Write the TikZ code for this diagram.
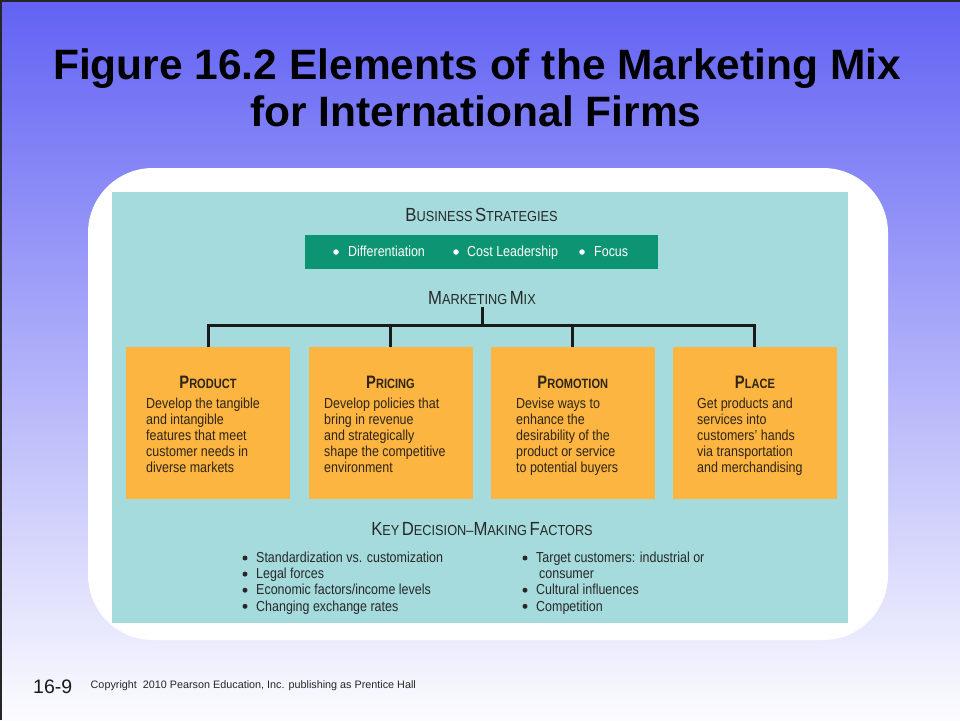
\documentclass[tikz,border=0pt]{standalone}
\usepackage{fontspec}
\setmainfont{Liberation Sans}
\newfontfamily\condf[FakeStretch=0.86]{Liberation Sans}
\newfontfamily\headf[FakeStretch=0.88]{Liberation Sans}
\newfontfamily\condbf[FakeStretch=0.82]{Liberation Sans}
\definecolor{bgtop}{RGB}{98,98,244}
\definecolor{bgmid}{RGB}{185,185,252}
\definecolor{bgbot}{RGB}{252,252,255}
\definecolor{tealbg}{RGB}{165,219,220}
\definecolor{greenbar}{RGB}{13,148,114}
\definecolor{orangebox}{RGB}{251,181,64}
\definecolor{boxtext}{RGB}{48,36,24}
\definecolor{darktext}{RGB}{40,40,40}
\definecolor{linecol}{RGB}{26,26,26}
\newcommand\scA[2]{{\fontsize{19}{19}\selectfont #1}{\fontsize{14.5}{14.5}\selectfont #2}}
\newcommand\scB[2]{{\fontsize{18}{18}\selectfont #1}{\fontsize{13.5}{13.5}\selectfont #2}}
\tikzset{
  titletext/.style={font=\fontsize{42.5}{47}\selectfont\bfseries, text=black, inner sep=0},
  heading/.style={font=\headf, text=darktext, inner sep=0, anchor=base},
  obox/.style={fill=orangebox, draw=none, minimum width=164pt, minimum height=152pt, inner sep=0},
  boxhead/.style={font=\condbf\bfseries, text=boxtext, inner sep=0, anchor=base},
  boxbody/.style={font=\condf\fontsize{14.5}{16}\selectfont, text=boxtext, inner sep=0, anchor=base west, align=left},
  bartext/.style={font=\condf\fontsize{14.5}{16}\selectfont, text=white, inner sep=0, anchor=base west},
  listtext/.style={font=\condf\fontsize{14.5}{16.1}\selectfont, text=darktext, inner sep=0, anchor=base west, align=left},
  wdot/.style={circle, fill=white, inner sep=0, minimum size=5.5pt},
  ddot/.style={circle, fill=darktext, inner sep=0, minimum size=5pt},
  conn/.style={draw=linecol, line width=3pt, line join=miter}
}
\begin{document}
\begin{tikzpicture}[x=1pt,y=-1pt]
\useasboundingbox (0,0) rectangle (960,720);
% background
\shade[top color=bgtop, middle color=bgmid, bottom color=bgbot] (0,0) rectangle (960,720);
\draw[line width=1.5pt, draw=black!85] (0.75,720) -- (0.75,0.75) -- (960,0.75);
% title
\node[titletext, anchor=base] (title1) at (477,79) {Figure 16.2 Elements of the Marketing Mix};
\node[titletext, anchor=base] (title2) at (476,126) {for International Firms};
% white panel and teal area
\fill[white, rounded corners=65pt] (88,168) rectangle (888,640);
\fill[tealbg] (112,192) rectangle (848,623);
% business strategies
\node[heading] (bs) at (481.5,221) {\scA{B}{USINESS} \scA{S}{TRATEGIES}};
\node[fill=greenbar, minimum width=353pt, minimum height=34pt, inner sep=0] (bar) at (481.5,252) {};
\node[wdot] (gd1) at (336,252) {};
\node[wdot] (gd2) at (456,252) {};
\node[wdot] (gd3) at (582,252) {};
\node[bartext] (g1) at (348,256.5) {Differentiation};
\node[bartext] (g2) at (467,256.5) {Cost Leadership};
\node[bartext] (g3) at (594,256.5) {Focus};
% marketing mix
\node[heading] (mm) at (482,304) {\scA{M}{ARKETING} \scA{M}{IX}};
% boxes
\node[obox] (b1) at (208,423) {};
\node[obox] (b2) at (390.5,423) {};
\node[obox] (b3) at (572.8,423) {};
\node[obox] (b4) at (754.9,423) {};
% connectors
\coordinate (mmfoot) at (482,307);
\coordinate (hub) at (482,325);
\draw[conn] (mmfoot) -- (hub);
\draw[conn] (b1.north) |- (hub) -| (b4.north);
\draw[conn] (b2.north) -- (b2.north |- hub);
\draw[conn] (b3.north) -- (b3.north |- hub);
% box headings
\node[boxhead] (h1) at (208,388) {\scB{P}{RODUCT}};
\node[boxhead] (h2) at (390.5,388) {\scB{P}{RICING}};
\node[boxhead] (h3) at (572.8,388) {\scB{P}{ROMOTION}};
\node[boxhead] (h4) at (754.9,388) {\scB{P}{LACE}};
% box bodies (anchor = baseline of last line)
\node[boxbody] (d1) at (146,472) {Develop the tangible\\and intangible\\features that meet\\customer needs in\\diverse markets};
\node[boxbody] (d2) at (324,472) {Develop policies that\\bring in revenue\\and strategically\\shape the competitive\\environment};
\node[boxbody] (d3) at (516,472) {Devise ways to\\enhance the\\desirability of the\\product or service\\to potential buyers};
\node[boxbody] (d4) at (697,472) {Get products and\\services into\\customers’ hands\\via transportation\\and merchandising};
% key decision-making factors
\node[heading] (kd) at (482,535) {\scA{K}{EY} \scA{D}{ECISION–}\scA{M}{AKING} \scA{F}{ACTORS}};
\foreach \i/\yy in {1/558, 2/574.1, 3/590.2, 4/606.3} {
  \node[ddot] (ld\i) at (245,\yy) {};
}
\foreach \i/\yy in {1/558, 3/590.2, 4/606.3} {
  \node[ddot] (rd\i) at (525,\yy) {};
}
\node[listtext] (lt) at (256,611) {Standardization vs. customization\\Legal forces\\Economic factors/income levels\\Changing exchange rates};
\node[listtext] (rt) at (536,611) {Target customers: industrial or\\\hspace{3pt}consumer\\Cultural influences\\Competition};
% footer
\node[anchor=base west, inner sep=0, font=\fontsize{19.5}{20}\selectfont, text=black!90] (pg) at (33,693) {16-9};
\node[anchor=base west, inner sep=0, font=\fontsize{10.8}{12}\selectfont, text=black!85] (copy) at (90.5,688) {Copyright\ \ 2010 Pearson Education, Inc. publishing as Prentice Hall};
\end{tikzpicture}
\end{document}
